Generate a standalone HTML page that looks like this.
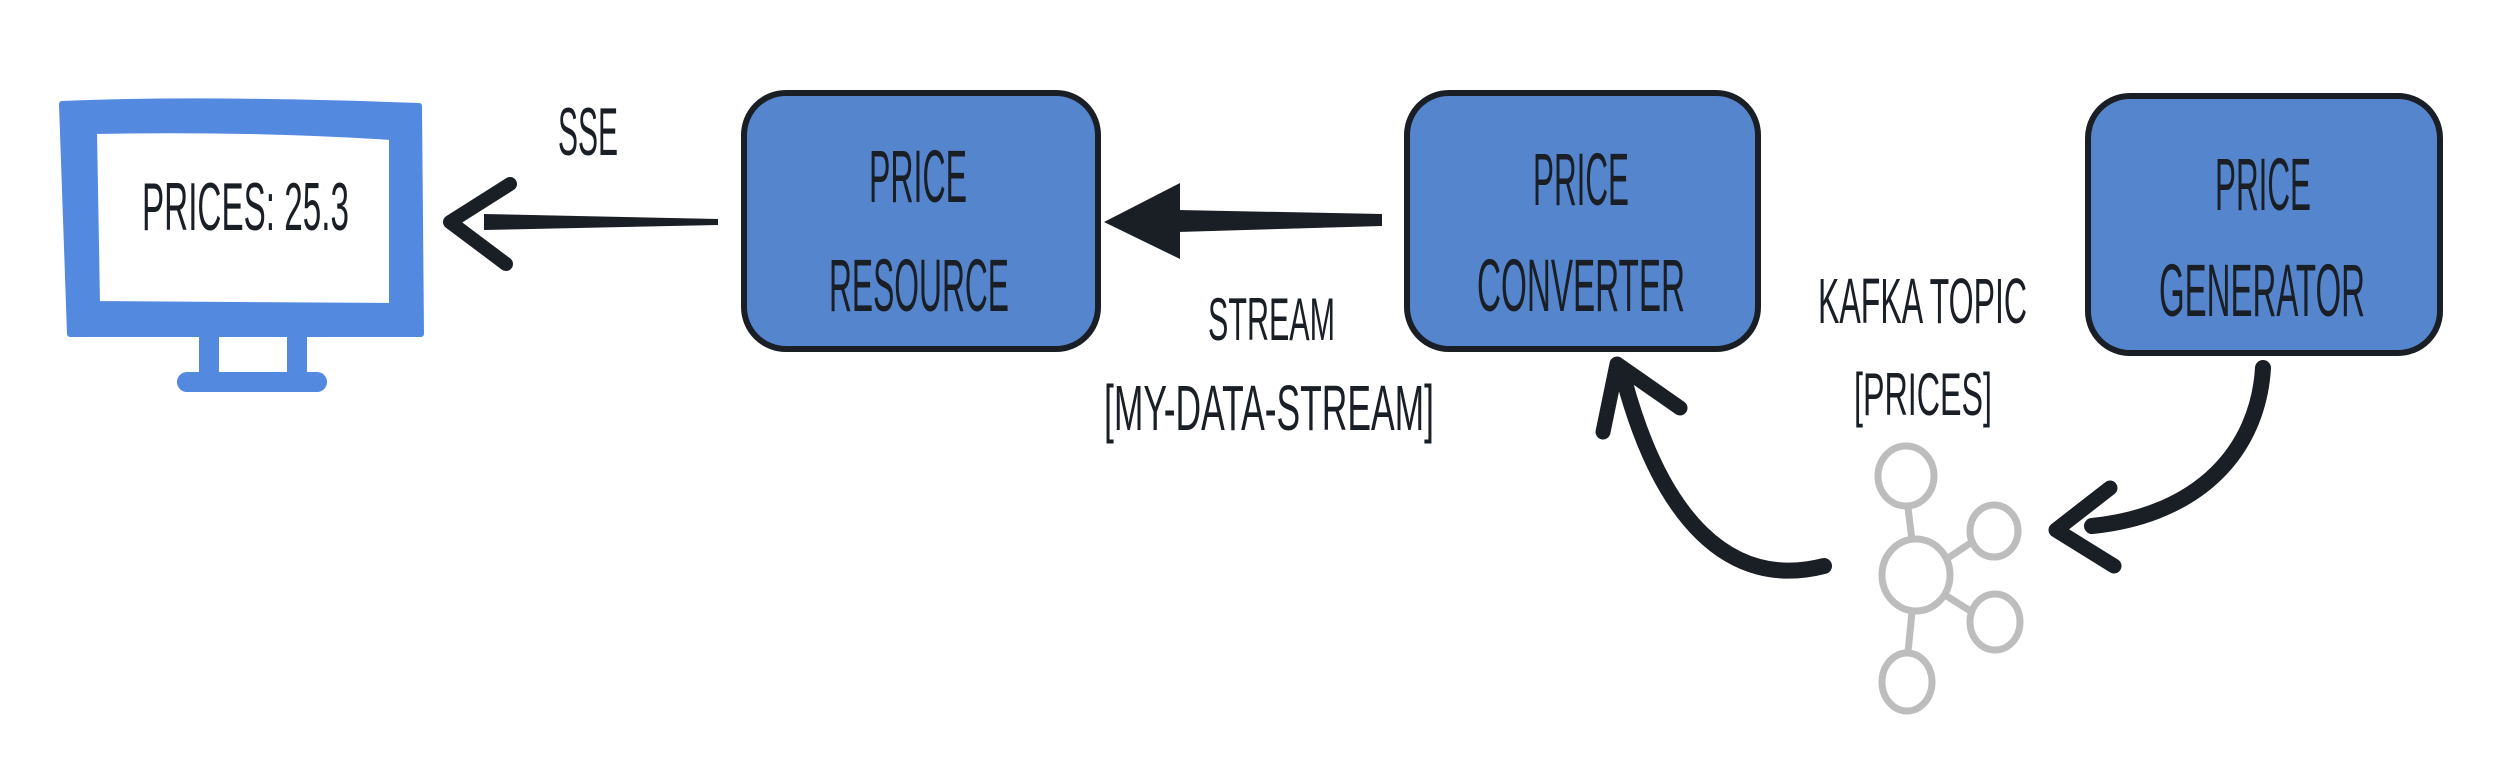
<!DOCTYPE html>
<html><head><meta charset="utf-8"><style>html,body{margin:0;padding:0;background:#fff;width:2498px;height:774px;overflow:hidden}</style></head>
<body>
<svg width="2498" height="774" viewBox="0 0 2498 774" xmlns="http://www.w3.org/2000/svg" font-family="'Liberation Sans', sans-serif">
<rect width="2498" height="774" fill="#fff"/>
<!-- monitor -->
<path d="M62 104 Q200 98 419 106 L421 334 L70 334 Z M94 131 L97 304 L392 306 L392 137 Q250 128 94 131 Z" fill="#5489e0" fill-rule="evenodd" stroke="#5489e0" stroke-width="6" stroke-linejoin="round"/>
<rect x="199" y="334" width="20" height="42" fill="#5489e0"/>
<rect x="287" y="334" width="20" height="42" fill="#5489e0"/>
<rect x="177" y="372" width="150" height="20" rx="10" fill="#5489e0"/>
<g fill="#1a1f26" font-size="68">
<text x="142" y="230" textLength="207" lengthAdjust="spacingAndGlyphs">PRICES: 25.3</text>
<text x="558" y="155" textLength="60" lengthAdjust="spacingAndGlyphs">SSE</text>
<text x="1208" y="340" font-size="60" textLength="127" lengthAdjust="spacingAndGlyphs">STREAM</text>
<text x="1104" y="430" font-size="64" textLength="330" lengthAdjust="spacingAndGlyphs">[MY-DATA-STREAM]</text>
<text x="1818" y="323" font-size="64" textLength="209" lengthAdjust="spacingAndGlyphs">KAFKA TOPIC</text>
<text x="1854" y="415" font-size="60" textLength="138" lengthAdjust="spacingAndGlyphs">[PRICES]</text>
</g>
<!-- boxes -->
<g fill="#5585cc" stroke="#1a1f26" stroke-width="6">
<rect x="744" y="93" width="354" height="256" rx="42"/>
<rect x="1407" y="93" width="351" height="256" rx="42"/>
<rect x="2088" y="96" width="352" height="257" rx="42"/>
</g>
<g fill="#1a1f26" font-size="74">
<text x="869" y="202" textLength="98" lengthAdjust="spacingAndGlyphs">PRICE</text>
<text x="829" y="311" textLength="180" lengthAdjust="spacingAndGlyphs">RESOURCE</text>
<text x="1533" y="205" textLength="96" lengthAdjust="spacingAndGlyphs">PRICE</text>
<text x="1477" y="311" textLength="208" lengthAdjust="spacingAndGlyphs">CONVERTER</text>
<text x="2215" y="210" textLength="96" lengthAdjust="spacingAndGlyphs">PRICE</text>
<text x="2159" y="316" textLength="206" lengthAdjust="spacingAndGlyphs">GENERATOR</text>
</g>
<!-- SSE arrow -->
<path d="M484 214 L718 219 L718 225 L484 230 Z" fill="#1a1f26"/>
<path d="M510 184 L450 222 L506 264" fill="none" stroke="#1a1f26" stroke-width="14" stroke-linecap="round" stroke-linejoin="round"/>
<!-- stream arrow -->
<path d="M1178 210 L1382 214 L1382 226 L1178 232 Z" fill="#1a1f26"/>
<path d="M1104 222 L1180 183 L1180 259 Z" fill="#1a1f26"/>
<!-- kafka to converter -->
<path d="M1824 566 C1730 590 1660 520 1622 372" fill="none" stroke="#1a1f26" stroke-width="16" stroke-linecap="round"/>
<path d="M1603 432 L1617 364 L1680 408" fill="none" stroke="#1a1f26" stroke-width="15" stroke-linecap="round" stroke-linejoin="round"/>
<!-- generator to kafka -->
<path d="M2263 368 C2258 450 2200 515 2092 526" fill="none" stroke="#1a1f26" stroke-width="16" stroke-linecap="round"/>
<path d="M2110 488 L2056 530 L2114 566" fill="none" stroke="#1a1f26" stroke-width="15" stroke-linecap="round" stroke-linejoin="round"/>
<!-- kafka icon -->
<g fill="none" stroke="#bdbdbd" stroke-width="7">
<line x1="1908" y1="508" x2="1912" y2="540"/>
<line x1="1945" y1="560" x2="1972" y2="542"/>
<line x1="1945" y1="595" x2="1972" y2="612"/>
<line x1="1912" y1="612" x2="1908" y2="652"/>
<ellipse cx="1906" cy="476" rx="28" ry="30"/>
<ellipse cx="1916" cy="575" rx="34" ry="36"/>
<ellipse cx="1994" cy="531" rx="24" ry="26"/>
<ellipse cx="1995" cy="622" rx="25" ry="28"/>
<ellipse cx="1907" cy="682" rx="25" ry="29"/>
</g>
</svg>
</body></html>
